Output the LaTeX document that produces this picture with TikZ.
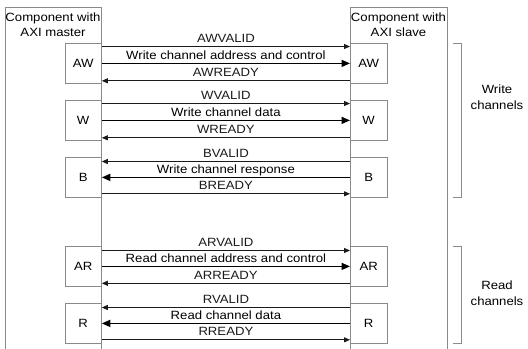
\documentclass[tikz,border=0pt]{standalone}
\usepackage{fontspec}
\setmainfont{Liberation Sans}[FakeStretch=1.1]
\usetikzlibrary{arrows.meta,positioning,calc}
\definecolor{EdgeGray}{HTML}{8A8A8A}
\definecolor{LineDark}{HTML}{1A1A1A}
\tikzset{
  compbox/.style={rectangle, draw=EdgeGray, line width=0.8bp, minimum height=360bp, anchor=north west, inner sep=0pt},
  chanbox/.style={rectangle, draw=EdgeGray, line width=0.8bp, fill=white, minimum width=36.5bp, minimum height=40bp, anchor=north west, inner sep=0pt, font=\fontsize{12}{14}\selectfont},
  titletext/.style={anchor=north, align=center, inner sep=0pt, font=\fontsize{12}{15.5}\selectfont},
  sigarrow/.style={-{Triangle[length=6bp,width=5bp]}, LineDark, line width=0.8bp},
  dataarrow/.style={-{Triangle[length=8.5bp,width=7bp]}, black, line width=1.6bp},
  siglabel/.style={above=3.5bp, inner sep=0pt, text depth=0pt, font=\fontsize{12}{14}\selectfont},
  chanbrace/.style={draw=EdgeGray, line width=0.8bp},
}

\begin{document}
\begin{tikzpicture}[x=1bp, y=-1bp]
  \useasboundingbox (0,0) rectangle (528,348);
  % the two components, open at the bottom
  \begin{scope}
    \clip (0,0) rectangle (528,348);
    \node[compbox, minimum width=96bp] (master) at (5,7) {};
    \node[compbox, minimum width=97bp] (slave) at (350,7) {};
  \end{scope}
  \node[titletext] (mtitle) at (53,12.5) {Component with\\AXI master};
  \node[titletext] (stitle) at (398.5,12.5) {Component with\\AXI slave};

  % write address channel
  \node[chanbox] (mAW) at (64.5,43) {AW};
  \node[chanbox] (sAW) at (350,43) {AW};
  \draw[sigarrow] ([yshift=-3.5bp]mAW.north east) -- node[siglabel] {AWVALID} ([yshift=-3.5bp]sAW.north west);
  \draw[dataarrow] (mAW.east) -- node[siglabel] {Write channel address and control} (sAW.west);
  \draw[sigarrow] ([yshift=3bp]sAW.south west) -- node[siglabel] {AWREADY} ([yshift=3bp]mAW.south east);

  % write data channel
  \node[chanbox] (mW) at (64.5,100) {W};
  \node[chanbox] (sW) at (350,100) {W};
  \draw[sigarrow] ([yshift=-3.5bp]mW.north east) -- node[siglabel] {WVALID} ([yshift=-3.5bp]sW.north west);
  \draw[dataarrow] (mW.east) -- node[siglabel] {Write channel data} (sW.west);
  \draw[sigarrow] ([yshift=3bp]sW.south west) -- node[siglabel] {WREADY} ([yshift=3bp]mW.south east);

  % write response channel
  \node[chanbox] (mB) at (64.5,157) {B};
  \node[chanbox] (sB) at (350,157) {B};
  \draw[sigarrow] ([yshift=-4.5bp]sB.north west) -- node[siglabel] {BVALID} ([yshift=-4.5bp]mB.north east);
  \draw[dataarrow] (sB.west) -- node[siglabel] {Write channel response} (mB.east);
  \draw[sigarrow] ([yshift=4bp]mB.south east) -- node[siglabel] {BREADY} ([yshift=4bp]sB.south west);

  % read address channel
  \node[chanbox] (mAR) at (64.5,246) {AR};
  \node[chanbox] (sAR) at (350,246) {AR};
  \draw[sigarrow] ([yshift=-4.5bp]mAR.north east) -- node[siglabel] {ARVALID} ([yshift=-4.5bp]sAR.north west);
  \draw[dataarrow] (mAR.east) -- node[siglabel] {Read channel address and control} (sAR.west);
  \draw[sigarrow] ([yshift=3.5bp]sAR.south west) -- node[siglabel] {ARREADY} ([yshift=3.5bp]mAR.south east);

  % read data channel
  \node[chanbox] (mR) at (64.5,303) {R};
  \node[chanbox] (sR) at (350,303) {R};
  \draw[sigarrow] ([yshift=-4.5bp]sR.north west) -- node[siglabel] {RVALID} ([yshift=-4.5bp]mR.north east);
  \draw[dataarrow] (sR.west) -- node[siglabel] {Read channel data} (mR.east);
  \draw[sigarrow] ([yshift=4bp]mR.south east) -- node[siglabel] {RREADY} ([yshift=4bp]sR.south west);

  % channel groups
  \coordinate (wtop) at ([xshift=5bp]slave.east |- sAW.north);
  \coordinate (wbot) at ([xshift=5bp]slave.east |- sB.south);
  \coordinate (rtop) at ([xshift=5bp]slave.east |- sAR.north);
  \coordinate (rbot) at ([xshift=5bp]slave.east |- sR.south);
  \draw[chanbrace] (wtop) -- ++(9,0) |- (wbot);
  \draw[chanbrace] (rtop) -- ++(9,0) |- (rbot);
  \node[titletext, anchor=center] (wlabel) at (497,97) {Write\\channels};
  \node[titletext, anchor=center] (rlabel) at (497,293) {Read\\channels};
\end{tikzpicture}
\end{document}
